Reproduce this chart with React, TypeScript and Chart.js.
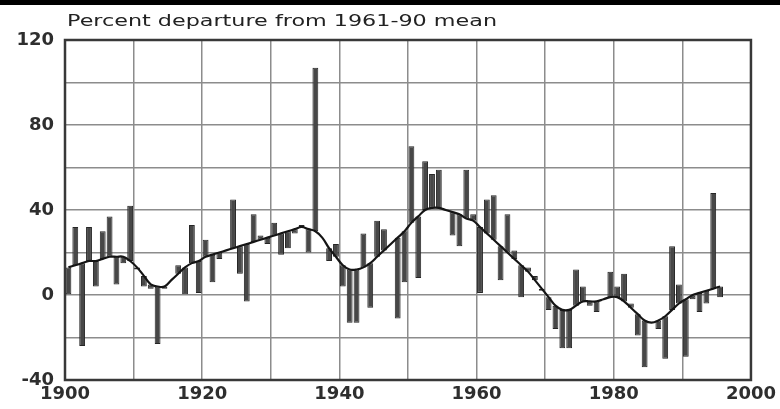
import React, { useEffect, useRef } from 'react';
import { Chart, registerables } from 'chart.js';

Chart.register(...registerables);

const TITLE = 'Percent departure from 1961-90 mean';

const years = [
  1900, 1901, 1902, 1903, 1904, 1905, 1906, 1907, 1908, 1909,
  1910, 1911, 1912, 1913, 1914, 1915, 1916, 1917, 1918, 1919,
  1920, 1921, 1922, 1923, 1924, 1925, 1926, 1927, 1928, 1929,
  1930, 1931, 1932, 1933, 1934, 1935, 1936, 1937, 1938, 1939,
  1940, 1941, 1942, 1943, 1944, 1945, 1946, 1947, 1948, 1949,
  1950, 1951, 1952, 1953, 1954, 1955, 1956, 1957, 1958, 1959,
  1960, 1961, 1962, 1963, 1964, 1965, 1966, 1967, 1968, 1969,
  1970, 1971, 1972, 1973, 1974, 1975, 1976, 1977, 1978, 1979,
  1980, 1981, 1982, 1983, 1984, 1985, 1986, 1987, 1988, 1989,
  1990, 1991, 1992, 1993, 1994, 1995,
];

// annual percent departure
const annual = [
  0, 32, -24, 32, 4, 30, 37, 5, 15, 42,
  12, 4, 3, -23, 3, 7, 14, 0, 33, 1,
  26, 6, 17, 21, 45, 10, -3, 38, 28, 24,
  34, 19, 22, 29, 33, 20, 107, 27, 16, 24,
  4, -13, -13, 29, -6, 35, 31, 24, -11, 6,
  70, 8, 63, 57, 59, 40, 28, 23, 59, 38,
  1, 45, 47, 7, 38, 21, -1, 13, 9, 2,
  -7, -16, -25, -25, 12, 4, -5, -8, -2, 11,
  4, 10, -4, -19, -34, -13, -16, -30, 23, 5,
  -29, -2, -8, -4, 48, -1,
];

// smoothed curve
const smooth = [
  13, 14, 15, 16, 16, 17, 18, 18, 18, 16,
  13, 9, 5, 4, 4, 7, 10, 13, 15, 16,
  18, 19, 20, 21, 22, 23, 24, 25, 26, 27,
  28, 29, 30, 31, 32, 31, 30, 27, 22, 18,
  14, 12, 12, 13, 15, 18, 21, 24, 27, 30,
  34, 37, 40, 41, 41, 40, 39, 38, 36, 35,
  32, 29, 26, 23, 20, 17, 14, 11, 7, 3,
  -1, -5, -7, -7, -5, -3, -3, -3, -2, -1,
  -1, -3, -6, -9, -12, -13, -12, -10, -7, -4,
  -2, 0, 1, 2, 3, 4,
];

const xTicksShown = [1900, 1920, 1940, 1960, 1980, 2000];
const yTicksShown = [-40, 0, 40, 80, 120];

const decor = {
  id: 'decor',
  beforeDraw(chart: any) {
    const ctx = chart.ctx;
    ctx.save();
    ctx.fillStyle = '#ffffff';
    ctx.fillRect(0, 0, chart.width, chart.height);
    ctx.fillStyle = '#000000';
    ctx.fillRect(0, 0, chart.width, 5);
    ctx.restore();
  },
  afterDatasetsDraw(chart: any) {
    const { ctx, chartArea: a } = chart;
    ctx.save();
    ctx.strokeStyle = '#383838';
    ctx.lineWidth = 2.5;
    ctx.strokeRect(a.left, a.top, a.right - a.left, a.bottom - a.top);
    ctx.font = '16px "DejaVu Sans"';
    ctx.fillStyle = '#222222';
    ctx.textBaseline = 'alphabetic';
    const w = ctx.measureText(TITLE).width;
    ctx.translate(a.left + 2, 26);
    ctx.scale(430 / w, 1);
    ctx.fillText(TITLE, 0, 0);
    ctx.restore();
  },
};

export default function App() {
  const ref = useRef<HTMLCanvasElement>(null);

  useEffect(() => {
    document.body.style.margin = '0';
    const canvas = ref.current!;
    const barData = years.map((y, i) => ({ x: y + 0.5, y: [smooth[i], annual[i]] }));
    const lineData = years.map((y, i) => ({ x: y + 0.5, y: smooth[i] }));
    const tickFont = { family: '"DejaVu Sans"', size: 18, weight: 'bold' as const };

    const chart = new Chart(canvas, {
      type: 'bar',
      data: {
        datasets: [
          {
            type: 'line',
            data: lineData as any,
            borderColor: '#151515',
            borderWidth: 2.2,
            pointRadius: 0,
            tension: 0.4,
            order: 0,
          } as any,
          {
            type: 'bar',
            data: barData as any,
            backgroundColor: '#474747',
            borderColor: '#262626',
            borderWidth: 1,
            borderSkipped: false,
            barPercentage: 0.85,
            categoryPercentage: 1,
            order: 1,
          } as any,
        ],
      },
      options: {
        animation: false,
        responsive: false,
        devicePixelRatio: 1,
        layout: { padding: { top: 40, right: 28, left: 0, bottom: 0 } },
        plugins: {
          legend: { display: false },
          tooltip: { enabled: false },
          title: { display: false },
        },
        scales: {
          x: {
            type: 'linear',
            min: 1900,
            max: 2000,
            offset: false,
            grid: { color: '#8c8c8c', lineWidth: 1.5, drawTicks: false, offset: false },
            border: { display: false },
            ticks: {
              stepSize: 10,
              autoSkip: false,
              maxRotation: 0,
              padding: 4,
              color: '#2e2e2e',
              font: tickFont,
              callback: (v: any) => (xTicksShown.includes(Number(v)) ? String(v) : ''),
            },
            afterFit: (s: any) => {
              s.height = 29;
            },
          },
          y: {
            min: -40,
            max: 120,
            grid: { color: '#8c8c8c', lineWidth: 1.5, drawTicks: false },
            border: { display: false },
            ticks: {
              stepSize: 20,
              autoSkip: false,
              padding: 11,
              color: '#2e2e2e',
              font: tickFont,
              callback: (v: any) => (yTicksShown.includes(Number(v)) ? String(v) : ''),
            },
            afterFit: (s: any) => {
              s.width = 65;
            },
          },
        },
      } as any,
      plugins: [decor],
    });
    return () => chart.destroy();
  }, []);

  return (
    <div style={{ position: 'absolute', left: 0, top: 0, width: 780, height: 409 }}>
      <canvas ref={ref} width={780} height={409} style={{ width: 780, height: 409, display: 'block' }} />
    </div>
  );
}
